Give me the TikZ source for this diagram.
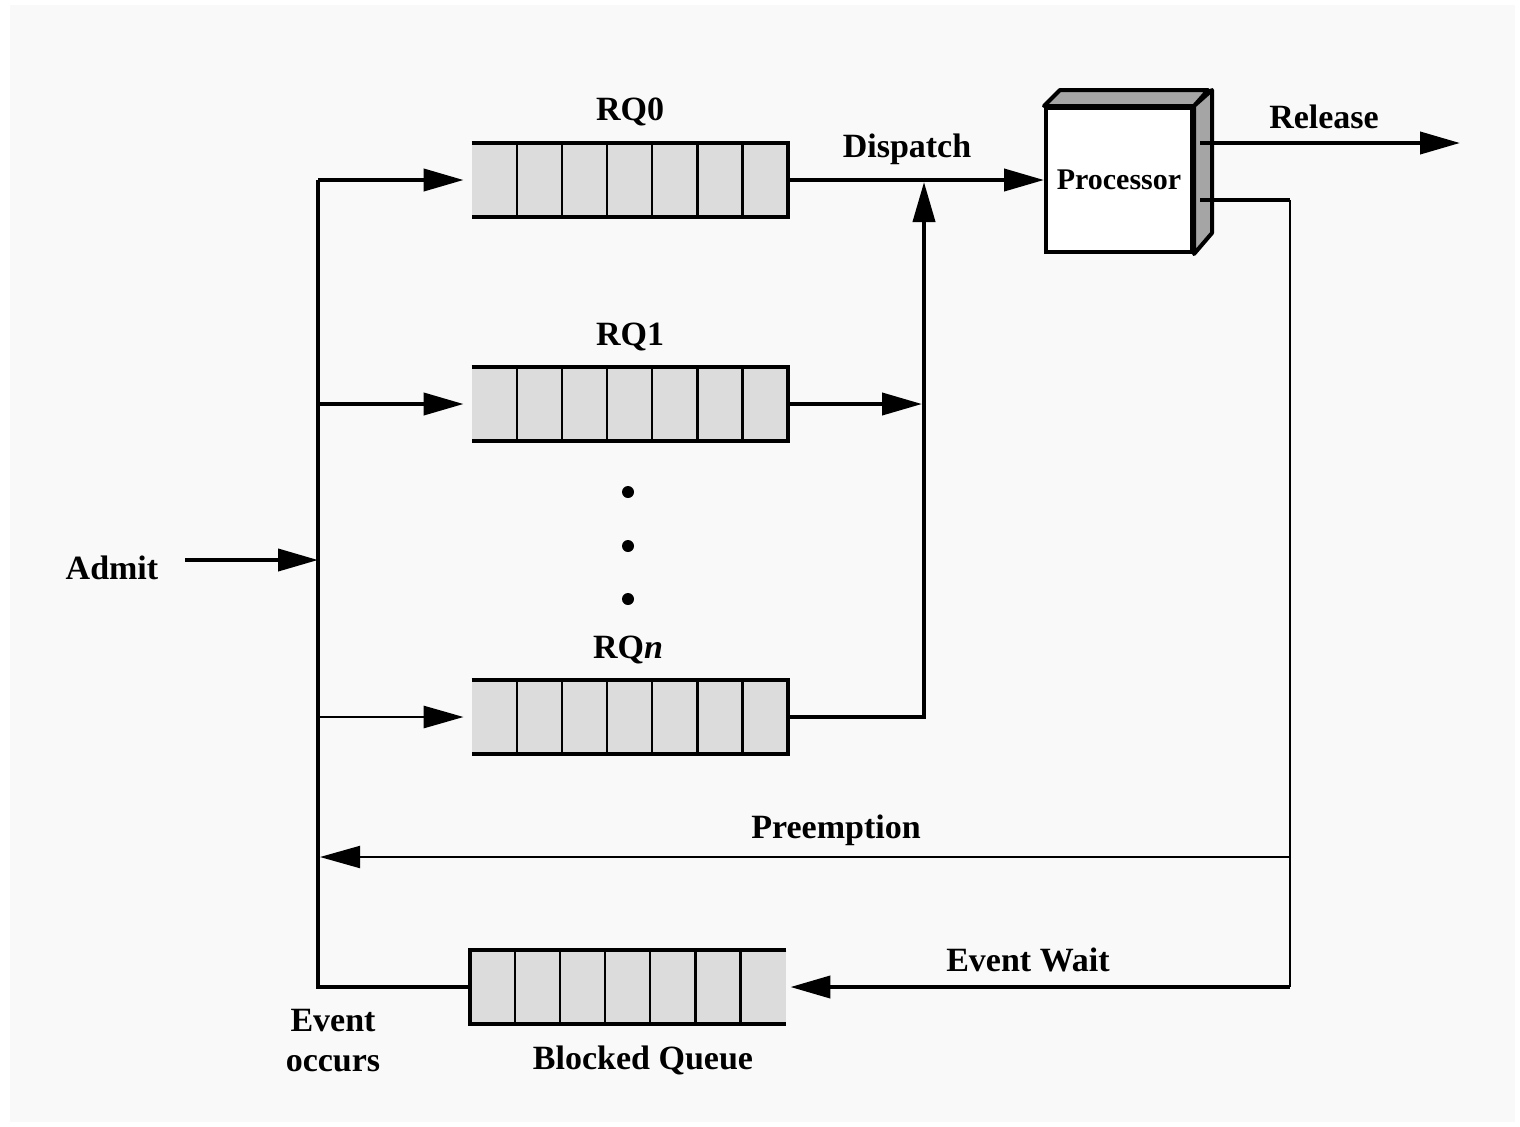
\documentclass[tikz,border=0pt]{standalone}
\usepackage{fontspec}
\setmainfont{Liberation Serif}
\usetikzlibrary{arrows.meta}
\definecolor{qgray}{RGB}{220,220,220}
\definecolor{pgray}{RGB}{165,165,165}
\definecolor{bggray}{RGB}{249,249,249}
\newcommand\qcells[1]{%
  \foreach \k in {1,...,6}{\draw[cellline] ([xshift=\k*22.57pt]#1.north west) -- ([xshift=\k*22.57pt]#1.south west);}}
\begin{document}
\begin{tikzpicture}[x=0.5pt,y=-0.5pt,
  font=\bfseries\fontsize{17}{20}\selectfont,
  >={Triangle[length=20pt,width=11pt]},
  qbox/.style={minimum width=158pt,minimum height=36.5pt,inner sep=0pt,fill=qgray,draw=none},
  thickline/.style={line width=2pt},
  midline/.style={line width=1.4pt},
  thinline/.style={line width=1pt},
  cellline/.style={line width=1.2pt},
  lbl/.style={inner sep=0pt}]
\useasboundingbox (0,0) rectangle (1520,1126);
\fill[white] (0,0) rectangle (1520,1126);
\fill[bggray] (10,5) rectangle (1515,1122);

% queues
\node[qbox] (q0) at (630,180) {};
\node[qbox] (q1) at (630,404) {};
\node[qbox] (qn) at (630,717) {};
\node[qbox] (qb) at (628,987) {};
\qcells{q0}\qcells{q1}\qcells{qn}\qcells{qb}
\foreach \q in {q0,q1,qn}{\draw[thickline] (\q.north west) -- (\q.north east) -- (\q.south east) -- (\q.south west);}
\draw[thickline] (qb.north east) -- (qb.north west) -- (qb.south west) -- (qb.south east);

% labels
\node[lbl] (l0) at (630,112) {RQ0};
\node[lbl] (l1) at (630,337) {RQ1};
\node[lbl] (ln) at (628,650) {RQ\textit{n}};
\node[lbl] (ldisp) at (907,149) {Dispatch};
\node[lbl] (lrel) at (1324,117) {Release};
\node[lbl] (lpre) at (836,830) {Preemption};
\node[lbl] (lew) at (1028,960) {Event Wait};
\node[lbl,align=center] (leo) at (333,1041) {Event\\occurs};
\node[lbl] (lbq) at (643,1060) {Blocked Queue};
\node[lbl] (ladm) at (112,568) {Admit};
\fill (628,492) circle (3pt) (628,546) circle (3pt) (628,599) circle (3pt);

% processor
\node[draw,line width=2pt,fill=white,minimum width=73pt,minimum height=72pt,inner sep=0pt,
  font=\bfseries\fontsize{15}{18}\selectfont] (proc) at (1119,180) {Processor};
\draw[thickline,fill=pgray,line join=round] (proc.north west) -- ++(16,-16) -- ++(148,0) -- (proc.north east) -- cycle;
\draw[thickline,fill=pgray,line join=round] (proc.north east) -- ++(18,-16) -- ++(0,143) -- (proc.south east) -- cycle;

% coordinates
\coordinate (b0) at (318,180);
\coordinate (b1) at (318,404);
\coordinate (bn) at (318,717);
\coordinate (ba) at (318,560);
\coordinate (bb) at (318,987);
\coordinate (as) at (185,560);
\coordinate (m1) at (922,404);
\coordinate (mn) at (924,717);
\coordinate (mt) at (924,182);
\coordinate (rs) at (1200,143);
\coordinate (re) at (1460,143);
\coordinate (ps) at (1200,200);
\coordinate (pc) at (1290,200);
\coordinate (pj) at (1290,857);
\coordinate (pe) at (320,857);
\coordinate (ec) at (1290,987);

% bus
\draw[thickline] (qb.west) -- (bb) -- (b0);
\draw[thickline,->,shorten >=4pt] (b0) -- (q0.west);
\draw[thickline,->,shorten >=4pt] (b1) -- (q1.west);
\draw[midline,->,shorten >=4pt] (bn) -- (qn.west);
\draw[thickline,->] (as) -- (ba);

% dispatch side
\draw[thickline,->] (q0.east) -- (proc.west);
\draw[thickline,->] (q1.east) -- (m1);
\draw[thickline,->] (qn.east) -- (mn) -- (mt);

% outputs
\draw[thickline,->] (rs) -- (re);
\draw[thickline] (ps) -- (pc);
\draw[midline] (pc) -- (pj);
\draw[thinline,->] (pj) -- (pe);
\draw[midline] (pj) -- (ec);
\draw[thickline,->,shorten >=2pt] (ec) -- (qb.east);
\end{tikzpicture}
\end{document}
